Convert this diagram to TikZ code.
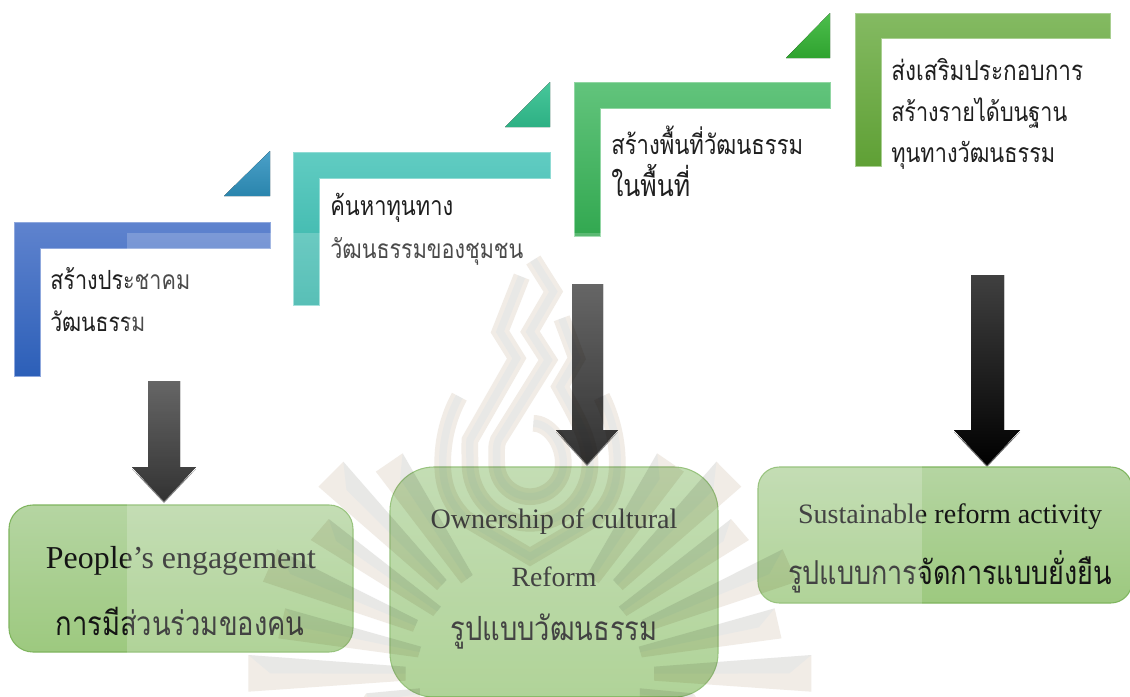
\documentclass[tikz,border=0pt]{standalone}
\usepackage{graphicx}
\usepackage{fontspec}
\setmainfont{Liberation Serif}
\newfontfamily\thaifont[Script=Thai]{Loma}
\usetikzlibrary{calc}
\newcommand{\tw}[2]{\resizebox{\dimexpr #1pt*3/4\relax}{!}{\fontsize{20pt}{24pt}\selectfont #2}}
\newcommand{\thw}[2]{\scalebox{1}[1.22]{\tw{#1}{\thaifont #2}}}
\definecolor{wmb}{HTML}{F1ECE6}
\definecolor{wmg}{HTML}{F6FBFF}
\definecolor{boxedge}{HTML}{7FB55E}
\definecolor{boxtop}{HTML}{B5D5A2}
\definecolor{boxbot}{HTML}{9DC97F}
\definecolor{arrtop}{HTML}{404040}
\tikzset{
  x=0.75pt,y=-0.75pt,
  lab/.style={anchor=west,inner sep=0pt,text=black!88},
  ctr/.style={anchor=center,inner sep=0pt,text=black!92},
  greenbox/.style={rectangle,draw=boxedge,line width=0.8pt,top color=boxtop,bottom color=boxbot,inner sep=0pt},
  barshape/.style n args={3}{draw=#1!70!white,line width=0.5pt,top color=#1,middle color=#2,bottom color=#3},
  arrowshape/.style={top color=arrtop,middle color=black,bottom color=black},
  arrowedge/.style={fill=black!60},
  wmline/.style={line width=12.5pt,draw=wmb,line join=miter},
  wmcore/.style={line width=5.5pt,draw=wmg,line join=miter}
}
\begin{document}
\begin{tikzpicture}
\useasboundingbox (0,0) rectangle (1130,696);
\fill[white] (0,0) rectangle (1130,696);

% bars
\definecolor{blA}{HTML}{5F83CE}\definecolor{blB}{HTML}{3F6DC4}\definecolor{blC}{HTML}{2C5FB8}
\definecolor{teA}{HTML}{61CCC2}\definecolor{teB}{HTML}{3CC2B6}\definecolor{teC}{HTML}{2FB0A5}
\definecolor{grA}{HTML}{62C47C}\definecolor{grB}{HTML}{3DB85A}\definecolor{grC}{HTML}{32A850}
\definecolor{lgA}{HTML}{84BA62}\definecolor{lgB}{HTML}{6CAE3E}\definecolor{lgC}{HTML}{5FA035}
\definecolor{t1A}{HTML}{4BA0C8}\definecolor{t1B}{HTML}{2A85AD}
\definecolor{t2A}{HTML}{48C79A}\definecolor{t2B}{HTML}{2DB084}
\definecolor{t3A}{HTML}{4DBE4D}\definecolor{t3B}{HTML}{2FA32F}

\draw[barshape={blA}{blB}{blC}] (14,222) -- (270,222) -- (270,248) -- (40,248) -- (40,376) -- (14,376) -- cycle;
\draw[barshape={teA}{teB}{teC}] (293,152) -- (550,152) -- (550,178) -- (319,178) -- (319,305) -- (293,305) -- cycle;
\draw[barshape={grA}{grB}{grC}] (574,82) -- (830,82) -- (830,108) -- (600,108) -- (600,236) -- (574,236) -- cycle;
\draw[barshape={lgA}{lgB}{lgC}] (855,13) -- (1110,13) -- (1110,38) -- (881,38) -- (881,166) -- (855,166) -- cycle;

% triangles
\fill[top color=t1A,bottom color=t1B] (224,196) -- (270,151) -- (270,196) -- cycle;
\fill[top color=t2A,bottom color=t2B] (505,127) -- (550,82) -- (550,127) -- cycle;
\fill[top color=t3A,bottom color=t3B] (786,58) -- (830,13) -- (830,58) -- cycle;

% bar labels
\node[lab] (l1a) at (50,279) {\thw{140}{สร้างประชาคม}};
\node[lab] (l1b) at (50,321) {\thw{95}{วัฒนธรรม}};
\node[lab] (l2a) at (330,208) {\thw{123}{ค้นหาทุนทาง}};
\node[lab] (l2b) at (330,251) {\thw{193}{วัฒนธรรมของชุมชน}};
\node[lab] (l3a) at (611,140) {\thw{192}{สร้างพื้นที่วัฒนธรรม}};
\node[lab] (l3b) at (611,180) {\thw{79}{ในพื้นที่}};
\node[lab] (l4a) at (891,70) {\thw{192}{ส่งเสริมประกอบการ}};
\node[lab] (l4b) at (891,113) {\thw{176}{สร้างรายได้บนฐาน}};
\node[lab] (l4c) at (891,155) {\thw{164}{ทุนทางวัฒนธรรม}};

% arrows
\fill[arrowedge] (132,469) -- (164,503) -- (196,469) -- (164,499) -- cycle;
\fill[arrowshape] (148,381) -- (180,381) -- (180,467) -- (196,467) -- (164,501) -- (132,467) -- (148,467) -- cycle;
\fill[arrowedge] (556,432) -- (587,466) -- (618,432) -- (587,462) -- cycle;
\fill[arrowshape] (572,284) -- (603,284) -- (603,430) -- (618,430) -- (587,464) -- (556,430) -- (572,430) -- cycle;
\fill[arrowedge] (954,432) -- (987,467) -- (1020,432) -- (987,463) -- cycle;
\fill[arrowshape] (971,275) -- (1004,275) -- (1004,430) -- (1020,430) -- (987,465) -- (954,430) -- (971,430) -- cycle;

% result boxes
\node[greenbox,rounded corners=18pt,minimum width=258pt,minimum height=110.25pt] (b1) at (181,578.5) {};
\node[greenbox,rounded corners=33pt,minimum width=246pt,minimum height=172.5pt] (b2) at (554,582) {};
\node[greenbox,rounded corners=16pt,minimum width=280.5pt,minimum height=102pt] (b3) at (945,535) {};

\node[ctr] (t1a) at (181,561) {\tw{270}{People’s engagement}};
\node[ctr] (t1b) at (180,621) {\thw{249}{การมีส่วนร่วมของคน}};
\node[ctr] (t2a) at (554,522) {\tw{247}{Ownership of cultural}};
\node[ctr] (t2b) at (554,577) {\tw{85}{Reform}};
\node[ctr] (t2c) at (554,632) {\thw{207}{รูปแบบวัฒนธรรม}};
\node[ctr] (t3a) at (950,517) {\tw{304}{Sustainable reform activity}};
\node[ctr] (t3b) at (950,572) {\thw{324}{รูปแบบการจัดการแบบยั่งยืน}};

% pale sheet of the page
\fill[white,opacity=0.2] (127,233) rectangle (922,696);

% watermark
\begin{scope}[blend mode=multiply]
\begin{scope}[shift={(240,260)},x=0.287pt,y=-0.25pt]
\foreach \m in {1,-1}
\foreach \ax/\ay/\bx/\by/\cx/\cy/\dx/\dy in {
  205/680/270/605/540/960/515/990,
  355/635/425/580/608/945/578/970,
  185/840/232/777/525/1040/505/1068,
  60/965/97/868/465/1080/452/1115,
  100/1135/118/1045/473/1160/465/1192,
  22/1295/22/1185/433/1220/433/1262,
  300/1350/330/1300/470/1285/470/1320}
{
  \coordinate (A) at ({757.5+\m*(\ax-757.5)},\ay);
  \coordinate (B) at ({757.5+\m*(\bx-757.5)},\by);
  \coordinate (C) at ({757.5+\m*(\cx-757.5)},\cy);
  \coordinate (D) at ({757.5+\m*(\dx-757.5)},\dy);
  \coordinate (N) at ($($(A)!.5!(B)$)!.14!($(C)!.5!(D)$)$);
  \fill[wmb] (A) -- (B) -- (C) -- (D) -- cycle;
  \fill[wmg] (N) -- (B) -- (C) -- ($(C)!.5!(D)$) -- cycle;
}
\end{scope}
\begin{scope}[shift={(420,260)},x=0.25pt,y=-0.25pt]
\foreach \sty in {wmline,wmcore}{
  \draw[\sty] (118,410) .. controls (85,470) and (68,540) .. (68,610) .. controls (68,680) and (90,730) .. (135,775) -- (330,890) -- (525,775) .. controls (570,730) and (592,680) .. (592,610) .. controls (592,540) and (575,470) .. (545,410);
  \draw[\sty] (305,50) -- (240,215) -- (290,295) -- (150,540) .. controls (148,560) and (150,585) .. (150,610) .. controls (150,710) and (230,790) .. (330,790) .. controls (430,790) and (510,710) .. (510,610) .. controls (510,540) and (470,470) .. (420,380) -- (470,295) -- (425,175);
  \draw[\sty] (340,0) -- (400,95) -- (330,215) -- (385,300) -- (235,540) .. controls (228,555) and (230,575) .. (230,610) .. controls (230,665) and (275,710) .. (330,710) .. controls (385,710) and (430,665) .. (430,610) .. controls (430,545) and (385,490) .. (340,490);
}
\end{scope}
\end{scope}
\end{tikzpicture}
\end{document}
